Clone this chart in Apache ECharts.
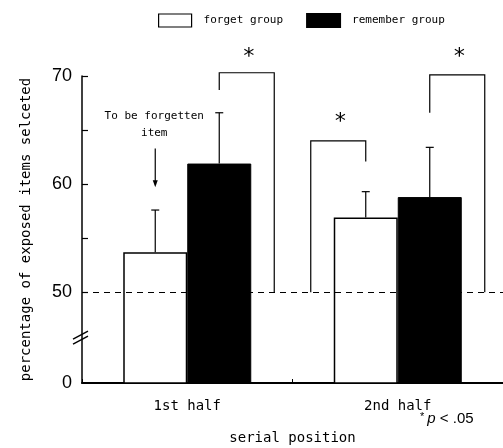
<!DOCTYPE html>
<html><head><meta charset="utf-8">
<script src="https://cdn.jsdelivr.net/npm/echarts@6/dist/echarts.min.js"></script>
<style>html,body{margin:0;padding:0;background:#fff}#c{width:503px;height:448px}</style>
</head><body><div id="c"></div>
<script>
// ---- data ----
const categories = ['1st half', '2nd half'];
const seriesNames = ['forget group', 'remember group'];
const forgetMean = [53.7, 56.9];
const forgetErrTop = [57.6, 59.3];
const rememberMean = [61.9, 58.8];
const rememberErrTop = [66.6, 63.4];
const chanceLevel = 50;
const axisBottomValue = 41.6;      // shown as "0" below the axis break
const breakValue = 45.8;           // where the axis break marks sit
const yLabelValues = [41.6, 50, 60, 70];
const yTickValues = [50, 55, 60, 65, 70];
// significance brackets: category, bar (0 forget / 1 remember), top, bar-leg end, outer side, star level
const bracketCat = [0, 1, 1];
const bracketBar = [1, 0, 1];
const bracketTop = [70.3, 64.0, 70.1];
const bracketLegEnd = [68.7, 62.1, 66.6];
const bracketSide = [1, -1, 1];
const bracketStar = [72.2, 66.2, 72.2];
// annotation
const annotLines = ['To be forgetten', 'item'];
const annotLineValues = [66.3, 64.7];
const annotArrowFrom = 63.3;
const annotArrowTo = 59.7;

const HALF_BAR = 32;
const OUTER = 55;
const MONO = '"DejaVu Sans Mono", "Liberation Mono", monospace';

const chart = echarts.init(document.getElementById('c'), null, {renderer: 'canvas'});

const errData = [];
for (let i = 0; i < categories.length; i++) {
  errData.push([i, 0, forgetMean[i], forgetErrTop[i]]);
  errData.push([i, 1, rememberMean[i], rememberErrTop[i]]);
}
const bracketData = bracketCat.map((c, i) => [c, bracketBar[i], bracketTop[i], bracketLegEnd[i], bracketSide[i], bracketStar[i]]);

const option = {
  animation: false,
  backgroundColor: '#fff',
  grid: {left: 82, right: 0, top: 76, bottom: 65, outerBoundsMode: 'none'},
  legend: {
    data: [
      {name: seriesNames[0], itemStyle: {color: '#fff', borderColor: '#000', borderWidth: 1.2}},
      {name: seriesNames[1], itemStyle: {color: '#000'}}
    ],
    left: 153, top: 8, icon: 'rect', itemWidth: 33, itemHeight: 13, itemGap: 23,
    textStyle: {fontFamily: MONO, fontSize: 11, color: '#000', padding: [0, 0, 0, 7]}
  },
  xAxis: {
    type: 'category', data: categories,
    axisLine: {lineStyle: {color: '#000', width: 2}},
    axisTick: {show: true, inside: true, length: 4, lineStyle: {color: '#000'}},
    axisLabel: {fontFamily: MONO, fontSize: 14, color: '#000', margin: 16},
    name: 'serial position', nameLocation: 'middle', nameGap: 48,
    nameTextStyle: {fontFamily: MONO, fontSize: 14, color: '#000'}
  },
  yAxis: {
    type: 'value', min: axisBottomValue, max: 70,
    splitLine: {show: false},
    axisLine: {show: true, lineStyle: {color: '#000', width: 1.5}},
    axisTick: {show: true, inside: true, length: 6, customValues: yTickValues, lineStyle: {color: '#000', width: 1.2}},
    axisLabel: {
      customValues: yLabelValues, margin: 10, color: '#000',
      fontFamily: '"Liberation Sans Narrow", "Liberation Sans", Arial, sans-serif', fontSize: 18,
      formatter: v => (v < 45 ? '0' : String(Math.round(v)))
    },
    name: 'percentage of exposed items selceted', nameLocation: 'middle', nameGap: 49, nameRotate: 90,
    nameTextStyle: {fontFamily: MONO, fontSize: 14, color: '#000'}
  },
  series: [
    {
      name: seriesNames[0], type: 'bar', data: forgetMean, barWidth: 64, barGap: '0%',
      itemStyle: {color: '#fff', borderColor: '#000', borderWidth: 1.5}
    },
    {
      name: seriesNames[1], type: 'bar', data: rememberMean, barWidth: 64, barGap: '0%',
      itemStyle: {color: '#000', borderColor: '#000', borderWidth: 1}
    },
    {
      type: 'custom', name: 'err', z: 5, data: errData,
      renderItem(params, api) {
        const cat = api.value(0), bar = api.value(1);
        const cx = api.coord([cat, chanceLevel])[0] + (bar === 0 ? -HALF_BAR : HALF_BAR);
        const y0 = api.coord([cat, api.value(2)])[1];
        const y1 = api.coord([cat, api.value(3)])[1];
        return {type: 'group', children: [
          {type: 'line', shape: {x1: cx, y1: y0, x2: cx, y2: y1}, style: {stroke: '#000', lineWidth: 1.2}},
          {type: 'line', shape: {x1: cx - 4, y1: y1, x2: cx + 4, y2: y1}, style: {stroke: '#000', lineWidth: 1.2}}
        ]};
      },
      markLine: {
        silent: true, symbol: 'none', label: {show: false},
        lineStyle: {color: '#000', type: [6, 5], width: 1.2},
        data: [{yAxis: chanceLevel}]
      }
    },
    {
      type: 'custom', name: 'brackets', z: 5, data: bracketData,
      renderItem(params, api) {
        const cat = api.value(0), bar = api.value(1);
        const barX = api.coord([cat, chanceLevel])[0] + (bar === 0 ? -HALF_BAR : HALF_BAR);
        const outX = barX + api.value(4) * OUTER;
        const yTop = api.coord([cat, api.value(2)])[1];
        const yLeg = api.coord([cat, api.value(3)])[1];
        const yCh = api.coord([cat, chanceLevel])[1];
        const yStar = api.coord([cat, api.value(5)])[1];
        return {type: 'group', children: [
          {type: 'polyline', shape: {points: [[barX, yLeg], [barX, yTop], [outX, yTop], [outX, yCh]]},
           style: {stroke: '#000', lineWidth: 1.2, fill: null}},
          {type: 'text', x: (barX + outX) / 2 + 2, y: yStar + 5,
           style: {text: '*', fontFamily: MONO, fontSize: 22, fill: '#000', align: 'center', verticalAlign: 'middle'}}
        ]};
      }
    },
    {
      type: 'custom', name: 'annot', z: 5, data: [[0, 0]],
      renderItem(params, api) {
        const cat = api.value(0);
        const cx = api.coord([cat, chanceLevel])[0] - HALF_BAR;
        const children = annotLines.map((t, i) => ({
          type: 'text', x: cx - 1, y: api.coord([cat, annotLineValues[i]])[1],
          style: {text: t, fontFamily: MONO, fontSize: 11, fill: '#000', align: 'center', verticalAlign: 'middle'}
        }));
        const ya = api.coord([cat, annotArrowFrom])[1];
        const yb = api.coord([cat, annotArrowTo])[1];
        children.push({type: 'line', shape: {x1: cx, y1: ya, x2: cx, y2: yb - 5}, style: {stroke: '#000', lineWidth: 1.2}});
        children.push({type: 'polygon', shape: {points: [[cx - 2.5, yb - 7], [cx + 2.5, yb - 7], [cx, yb]]}, style: {fill: '#000'}});
        return {type: 'group', children};
      }
    },
    {
      type: 'custom', name: 'break', z: 6, data: [[0, breakValue]],
      renderItem(params, api) {
        const x = params.coordSys.x;
        const y = api.coord([0, api.value(1)])[1];
        const mk = dy => ({type: 'line', shape: {x1: x - 9, y1: y + dy + 4, x2: x + 6, y2: y + dy - 4}, style: {stroke: '#000', lineWidth: 1.4}});
        return {type: 'group', children: [mk(-2.5), mk(2.5)]};
      }
    }
  ],
  graphic: [
    {type: 'text', left: 420, top: 411,
     style: {text: '{s|*}{i|p}{n| < .05}', rich: {
       s: {fontFamily: 'Liberation Sans', fontSize: 11, verticalAlign: 'top', fill: '#000', padding: [0, 3, 5, 0]},
       i: {fontFamily: 'Liberation Sans', fontStyle: 'italic', fontSize: 15, fill: '#000'},
       n: {fontFamily: 'Liberation Sans', fontSize: 15, fill: '#000'}
     }}}
  ]
};
chart.setOption(option);
</script>
</body></html>
